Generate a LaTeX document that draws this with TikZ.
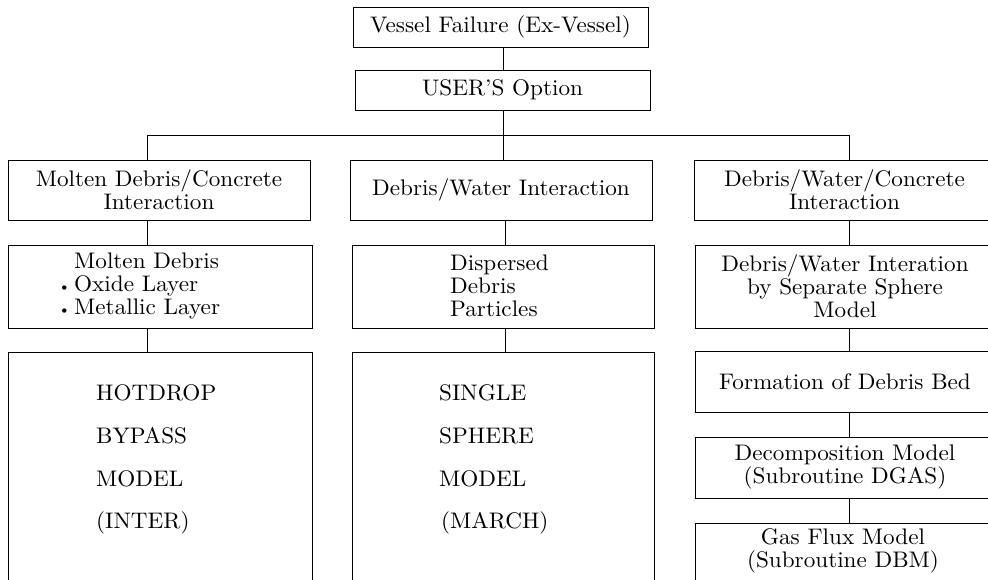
\documentclass[tikz,border=0pt]{standalone}
\usepackage{fontspec}
\newfontfamily\diaff{lmroman10-regular}[Extension=.otf, FakeStretch=1.03, Ligatures=TeX]
\newcommand{\diafont}{\diaff\fontsize{22.5}{23}\selectfont}
\newcommand{\smalldot}{{\fontsize{15}{15}\selectfont\textbullet}}
\begin{document}
\begin{tikzpicture}[x=1pt,y=-1pt,
  box/.style={draw, line width=0.9pt, inner sep=0pt, align=center, font=\diafont},
  txt/.style={inner sep=0pt, font=\diafont},
  big/.style={inner sep=0pt, anchor=base west, font=\diafont},
  link/.style={line width=0.9pt}]
\useasboundingbox (0,0) rectangle (988,580);
\clip (0,0) rectangle (988,580);
% top
\node[box, minimum width=295pt, minimum height=40pt] (vf) at (500.5,27) {Vessel Failure (Ex-Vessel)};
\node[box, minimum width=295pt, minimum height=40pt] (uo) at (502.5,90) {USER’S Option};
% row 1
\node[box, minimum width=302pt, minimum height=60pt] (r1L) at (159,190) {Molten Debris/Concrete\\Interaction};
\node[box, minimum width=302pt, minimum height=60pt] (r1M) at (501,190) {Debris/Water Interaction};
\node[box, minimum width=301pt, minimum height=60pt] (r1R) at (844.5,190) {Debris/Water/Concrete\\Interaction};
% row 2
\node[box, minimum width=304pt, minimum height=83pt] (r2L) at (160,286.5) {};
\node[txt, align=left, anchor=west] (t2L) at (74,286) {Molten Debris\\\llap{\smalldot\,}Oxide Layer\\\llap{\smalldot\,}Metallic Layer};
\node[box, minimum width=302pt, minimum height=83pt] (r2M) at (503,286.5) {};
\node[txt, align=left, anchor=west] (t2M) at (450,286) {Dispersed\\Debris\\Particles};
\node[box, minimum width=300pt, minimum height=83pt] (r2R) at (845,286.5) {Debris/Water Interation\\by Separate Sphere\\Model};
% row 3
\node[box, minimum width=304pt, minimum height=258pt] (r3L) at (160,481) {};
\node[big] (tL1) at (96,400) {HOTDROP};
\node[big] (tL2) at (96,443) {BYPASS};
\node[big] (tL3) at (96,486) {MODEL};
\node[big] (tL4) at (96,528) {(INTER)};
\node[box, minimum width=302pt, minimum height=258pt] (r3M) at (503,481) {};
\node[big] (tM1) at (439,400) {SINGLE};
\node[big] (tM2) at (439,443) {SPHERE};
\node[big] (tM3) at (439,486) {MODEL};
\node[big] (tM4) at (441,528) {(MARCH)};
\node[box, minimum width=300pt, minimum height=61pt] (fb) at (845,381.5) {Formation of Debris Bed};
\node[box, minimum width=300pt, minimum height=61pt] (dm) at (845,467.5) {Decomposition Model\\(Subroutine DGAS)};
\node[box, minimum width=300pt, minimum height=87pt] (gf) at (845,566.5) {};
\node[txt, align=center] (tgf) at (843,551) {Gas Flux Model\\(Subroutine DBM)};
% column coordinates
\coordinate (cC) at (503,0);
\coordinate (cL) at (147,0);
\coordinate (cM) at (505,0);
\coordinate (cR) at (849,0);
\coordinate (busL) at (147,135);
\coordinate (busM) at (503,135);
\coordinate (busR) at (849,135);
% connectors
\draw[link] (vf.south -| cC) -- (uo.north -| cC);
\draw[link] (uo.south -| cC) -- (busM);
\draw[link] (busL) -- (busR);
\draw[link] (busL) -- (r1L.north -| cL);
\draw[link] (busM) -- (r1M.north -| busM);
\draw[link] (busR) -- (r1R.north -| cR);
\draw[link] (r1L.south -| cL) -- (r2L.north -| cL);
\draw[link] (r1M.south -| cM) -- (r2M.north -| cM);
\draw[link] (r1R.south -| cR) -- (r2R.north -| cR);
\draw[link] (r2L.south -| cL) -- (r3L.north -| cL);
\draw[link] (r2M.south -| cM) -- (r3M.north -| cM);
\draw[link] (r2R.south -| cR) -- (fb.north -| cR);
\draw[link] (fb.south -| cR) -- (dm.north -| cR);
\draw[link] (dm.south -| cR) -- (gf.north -| cR);
\end{tikzpicture}
\end{document}
